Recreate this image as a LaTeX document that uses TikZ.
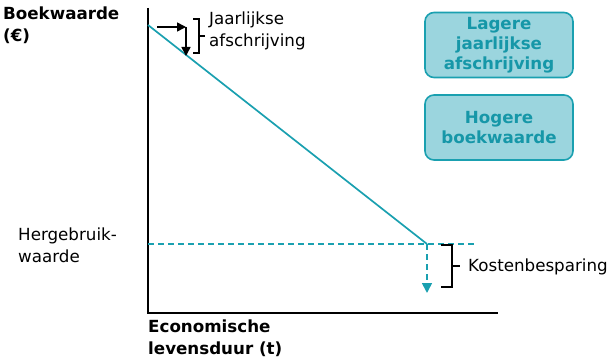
\documentclass[tikz,border=0pt]{standalone}
\usepackage{fontspec}
\setmainfont{DejaVu Sans}
\usetikzlibrary{arrows.meta}
\definecolor{teal1}{HTML}{1AA0B0}
\definecolor{boxfill}{HTML}{9BD5DE}
\definecolor{boxtext}{HTML}{1697A8}
\begin{document}
\begin{tikzpicture}[x=1pt,y=-1pt,
  lbl/.style={inner sep=0pt, anchor=north west, align=left, font=\fontsize{16.7}{21.5}\selectfont},
  blbl/.style={lbl, font=\fontsize{16.7}{21.5}\selectfont\bfseries},
  infobox/.style={draw=teal1, line width=1.6pt, fill=boxfill, rounded corners=9pt,
     minimum width=148pt, minimum height=65pt, align=center, text=boxtext,
     font=\fontsize{16.7}{20}\selectfont\bfseries, inner sep=0pt},
  axis/.style={line width=2pt, black},
  brk/.style={line width=1.5pt, black},
  arr/.style={line width=1.6pt, -{Triangle[length=9pt,width=9pt]}}]
\useasboundingbox (0,0) rectangle (611,361);
% axes
\coordinate (ytop) at (148,8);
\coordinate (orig) at (148,313);
\coordinate (xend) at (498,313);
\draw[axis] (ytop) -- (orig) -- (xend);
% depreciation line
\coordinate (start) at (148,25);
\coordinate (endp) at (427,244);
\draw[teal1, line width=1.7pt] (start) -- (endp);
% residual dashed line
\coordinate (dl) at (148,244);
\coordinate (dr) at (474,244);
\draw[teal1, line width=1.7pt, dash pattern=on 6pt off 4pt] (dl) -- (dr);
\coordinate (dtip) at (427,293);
\draw[teal1, line width=1.7pt, dash pattern=on 6pt off 4pt, -{Triangle[length=10pt,width=10pt]}] (endp) -- (dtip);
% yearly depreciation arrows
\coordinate (ha) at (157,27);
\coordinate (hb) at (186,27);
\coordinate (vb) at (186,56);
\draw[arr] (ha) -- (hb);
\draw[arr] (hb) -- (vb);
% bracket top
\draw[brk] (193,19) -- (199,19) -- (199,53) -- (193,53);
\draw[brk] (199,36) -- (205,36);
\node[lbl] (jaar) at (209,12) {Jaarlijkse\\afschrijving};
% bracket bottom
\draw[brk] (441,245) -- (452,245) -- (452,287) -- (441,287);
\draw[brk] (452,266) -- (460,266);
\node[lbl, anchor=west] (kost) at (468,267) {Kostenbesparing};
% labels
\node[blbl] (bw) at (3,7) {Boekwaarde\\(€)};
\node[lbl] (hw) at (18,228) {Hergebruik-\\waarde};
\node[blbl] (el) at (148,320) {Economische\\levensduur (t)};
% boxes
\node[infobox] (b1) at (499,45) {Lagere\\jaarlijkse\\afschrijving};
\node[infobox] (b2) at (499,127.5) {Hogere\\boekwaarde};
\end{tikzpicture}
\end{document}
